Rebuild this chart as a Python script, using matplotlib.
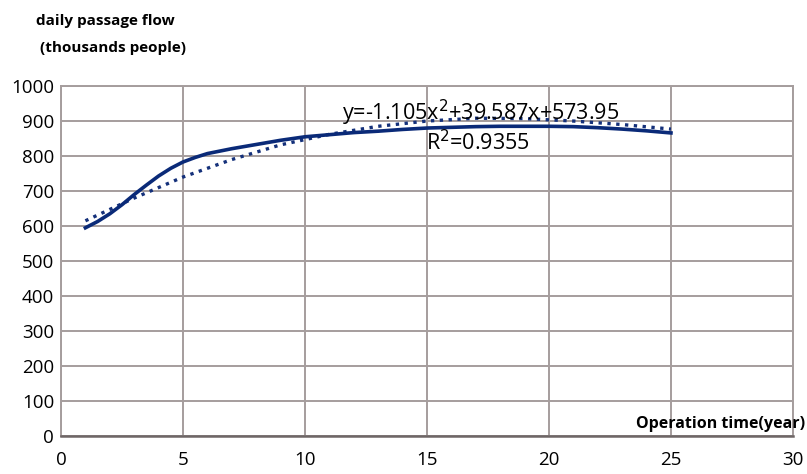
import numpy as np
import matplotlib.pyplot as plt

# Observed daily passage flow (solid curve)
years = [1, 1.5, 2, 2.5, 3, 3.5, 4, 4.5, 5, 5.5, 6, 7, 8, 9, 10, 11, 12, 13, 14, 15,
         16, 17, 18, 19, 20, 21, 22, 23, 24, 25]
flow = [595, 613, 635, 661, 690, 717, 743, 765, 783, 796, 807, 821, 833, 845, 855, 861,
        867, 871, 876, 880, 882, 884, 885, 885, 885, 884, 881, 877, 872, 866]

# Polynomial trend line (dotted)
trend_years = [1, 3, 5, 7, 9, 11, 13, 15, 17, 19, 21, 23, 25]
trend_flow = [615, 680, 740, 790, 832, 862, 885, 900, 908, 907, 900, 890, 877]

x_ticks = [0, 5, 10, 15, 20, 25, 30]
y_ticks = [0, 100, 200, 300, 400, 500, 600, 700, 800, 900, 1000]

plt.rcParams['font.family'] = ['Open Sans', 'DejaVu Sans']

fig = plt.figure(figsize=(8.07, 4.74), dpi=100)
ax = fig.add_axes([0.0756, 0.080, 0.907, 0.7385])

ax.plot(trend_years, trend_flow, linestyle=':', color='#14307a', linewidth=2.4)
ax.plot(years, flow, color='#0a2a78', linewidth=2.6)

ax.set_xlim(0, 30)
ax.set_ylim(0, 1000)
ax.set_xticks(x_ticks)
ax.set_yticks(y_ticks)
ax.grid(True, color='#a59d9d', linewidth=1.4)
ax.set_axisbelow(True)
for side in ['top', 'right', 'left']:
    ax.spines[side].set_color('#a59d9d')
    ax.spines[side].set_linewidth(1.4)
ax.spines['bottom'].set_color('#6e6666')
ax.spines['bottom'].set_linewidth(1.8)
ax.tick_params(length=0, labelsize=13.5, colors='black')
ax.tick_params(axis='x', pad=11)
ax.tick_params(axis='y', pad=5)

ax.text(17.2, 923, 'y=-1.105x$^2$+39.587x+573.95', fontsize=15.5, ha='center', va='center')
ax.text(17.1, 837, 'R$^2$=0.9355', fontsize=15.5, ha='center', va='center')

fig.text(0.044, 0.955, 'daily passage flow', fontsize=11, fontweight='bold', ha='left', va='center')
fig.text(0.050, 0.898, '(thousands people)', fontsize=11, fontweight='bold', ha='left', va='center')
fig.text(0.998, 0.105, 'Operation time(year)', fontsize=11.5, fontweight='bold', ha='right', va='center')

fig.savefig('out.png', dpi=100)
